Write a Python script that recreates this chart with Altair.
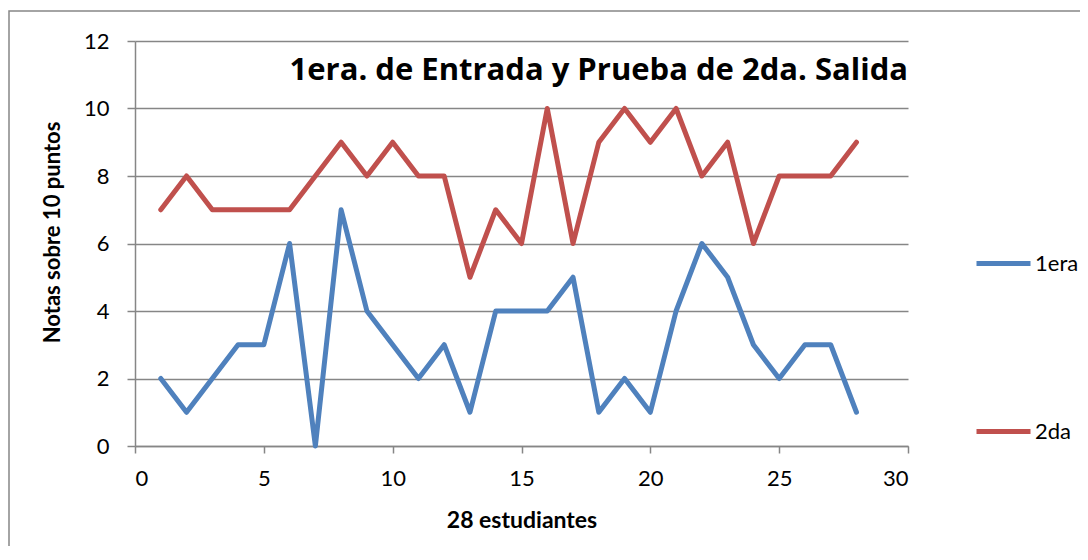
import altair as alt
import pandas as pd

estudiantes = list(range(1, 29))
primera = [2, 1, 2, 3, 3, 6, 0, 7, 4, 3, 2, 3, 1, 4, 4, 4, 5, 1, 2, 1, 4, 6, 5, 3, 2, 3, 3, 1]
segunda = [7, 8, 7, 7, 7, 7, 8, 9, 8, 9, 8, 8, 5, 7, 6, 10, 6, 9, 10, 9, 10, 8, 9, 6, 8, 8, 8, 9]
series_names = ["1era", "2da"]
series_colors = ["#4F81BD", "#C0504D"]
titulo = "1era. de Entrada y Prueba de 2da. Salida"
x_title = "28 estudiantes"
y_title = "Notas sobre 10 puntos"

df = pd.DataFrame({
    "estudiante": estudiantes * 2,
    "nota": primera + segunda,
    "serie": [series_names[0]] * len(primera) + [series_names[1]] * len(segunda),
})

W, H = 773, 405
FONT = "Lato"
GRAY = "#868686"

lines = alt.Chart(df).mark_line(strokeWidth=5, strokeCap="round", strokeJoin="round").encode(
    x=alt.X("estudiante:Q", scale=alt.Scale(domain=[0, 30], nice=False),
            axis=alt.Axis(title=x_title, values=list(range(0, 31, 5)), grid=False,
                          tickSize=7, labelPadding=15, titlePadding=20, titleFontSize=23)),
    y=alt.Y("nota:Q", scale=alt.Scale(domain=[0, 12], nice=False),
            axis=alt.Axis(title=y_title, values=list(range(0, 13, 2)), grid=True,
                          tickSize=8, labelPadding=18, titlePadding=19, titleY=191)),
    color=alt.Color("serie:N", scale=alt.Scale(domain=series_names, range=series_colors),
                    legend=alt.Legend(title=None, orient="none", legendX=839, legendY=193,
                                      symbolType="stroke", symbolSize=2916, symbolStrokeWidth=5,
                                      rowPadding=127, labelFontSize=22, labelFont=FONT,
                                      labelOffset=2, labelColor="#000000")),
)

title_df = pd.DataFrame({"t": [titulo]})
title_mark = alt.Chart(title_df).mark_text(
    font="Open Sans", fontSize=31, fontWeight="bold", align="right", baseline="middle", color="#000000"
).encode(text="t:N", x=alt.value(W), y=alt.value(30))

border = alt.Chart(title_df).mark_rect(fill=None, stroke=GRAY, strokeWidth=1.5).encode(
    x=alt.value(-126), x2=alt.value(W + 400), y=alt.value(-30), y2=alt.value(H + 300)
)

chart = alt.layer(border, lines, title_mark).properties(
    width=W, height=H,
    autosize=alt.AutoSizeParams(type="none"),
    padding={"left": 127, "top": 33, "right": 172, "bottom": 100},
).configure_view(stroke=None).configure_axis(
    domainColor=GRAY, domainWidth=1.5, tickColor=GRAY, tickWidth=1.5,
    gridColor=GRAY, gridWidth=1.5, labelFont=FONT, labelFontSize=22, labelColor="#000000",
    titleFont=FONT, titleFontSize=22, titleFontWeight="bold", titleColor="#000000",
)

chart.save("out.html", embed_options={"renderer": "svg", "actions": False})
